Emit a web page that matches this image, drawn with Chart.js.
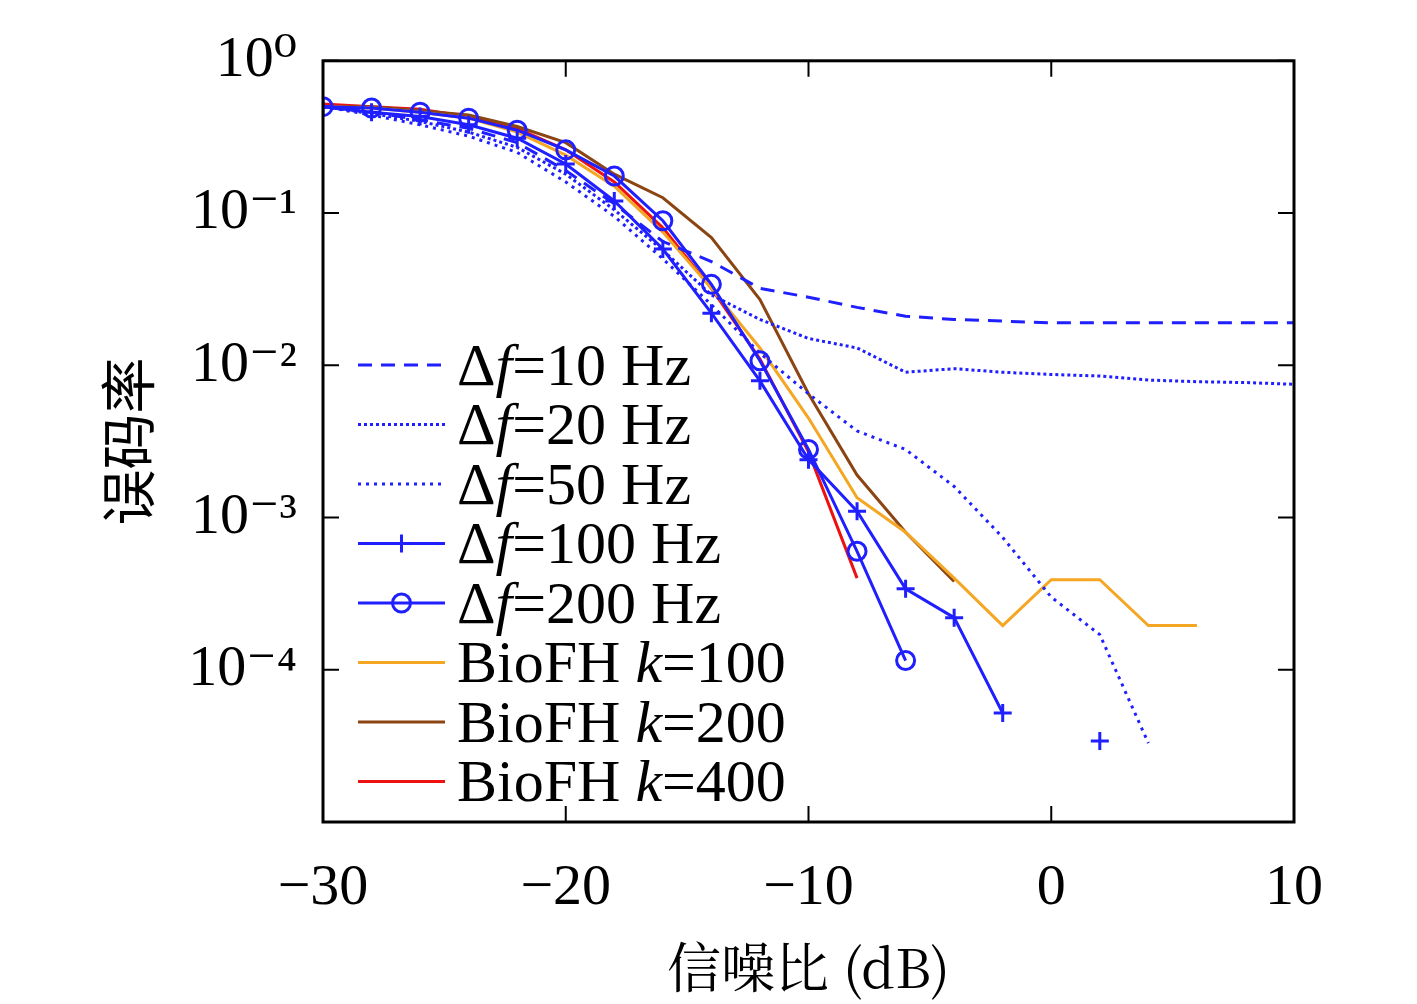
<!DOCTYPE html>
<html><head><meta charset="utf-8">
<script src="https://cdn.jsdelivr.net/npm/chart.js@4/dist/chart.umd.min.js"></script>
<style>html,body{margin:0;background:#fff}#wrap{width:1417px;height:1004px}</style>
</head><body><div id="wrap"><canvas id="c" width="1417" height="1004"></canvas></div>
<script>
/* SNR in dB, every 2 dB */
const snr = [-30,-28,-26,-24,-22,-20,-18,-16,-14,-12,-10,-8,-6,-4,-2,0,2,4,6,8,10];
const df10  = [0.5,0.46,0.41,0.36,0.29,0.19,0.115,0.065,0.048,0.032,0.028,0.024,0.021,0.020,0.0195,0.019,0.019,0.019,0.019,0.019,0.019];
const df20  = [0.5,0.45,0.4,0.34,0.27,0.18,0.105,0.057,0.029,0.020,0.015,0.013,0.009,0.0095,0.009,0.0087,0.0085,0.008,0.0078,0.0077,0.0075];
const df50  = [0.5,0.44,0.38,0.32,0.25,0.16,0.095,0.05,0.025,0.012,0.0065,0.0037,0.0028,0.0016,0.00074,0.0003,0.00017,0.000033,null,null,null];
const df100 = [0.5,0.46,0.43,0.38,0.31,0.21,0.12,0.058,0.022,0.0079,0.0024,0.0011,0.00034,0.00022,0.000052,null,0.000034,null,null,null,null];
const df200 = [0.5,0.49,0.46,0.42,0.35,0.26,0.175,0.089,0.034,0.0107,0.0028,0.0006,0.000115,null,null,null,null,null,null,null,null];
const k100  = [0.5,0.49,0.46,0.42,0.34,0.24,0.15,0.075,0.032,0.013,0.0045,0.00135,0.0008,0.0004,0.000195,0.00039,0.00039,0.000195,0.000195,null,null];
const k200  = [0.5,0.5,0.47,0.44,0.37,0.29,0.18,0.126,0.069,0.027,0.0065,0.0019,0.0008,0.00038,null,null,null,null,null,null,null];
const k400  = [0.52,0.5,0.48,0.43,0.36,0.26,0.16,0.08,0.032,0.011,0.0027,0.0004,null,null,null,null,null,null,null,null,null];
const xTicks = [-30,-20,-10,0,10];
const yTickLabels = {'1':'10⁰','0.1':'10⁻¹','0.01':'10⁻²','0.001':'10⁻³','0.0001':'10⁻⁴'};

const BLUE = '#1f1fff', ORANGE = '#f5a623', BROWN = '#8b4513', RED = '#ee1111';
const serif = '"Liberation Serif", "DejaVu Serif", serif';

function ds(label, data, color, extra){
  return Object.assign({label, data: data.map((v,i)=>({x:snr[i], y:v})), borderColor: color,
    backgroundColor: color, borderWidth: 3, pointRadius: 0, spanGaps: false, fill: false, tension: 0}, extra||{});
}
const datasets = [
  ds('Δf=10 Hz', df10, BLUE, {borderDash:[14,9]}),
  ds('Δf=20 Hz', df20, BLUE, {borderDash:[3,3]}),
  ds('Δf=50 Hz', df50, BLUE, {borderDash:[3,5]}),
  ds('Δf=100 Hz', df100, BLUE, {pointStyle:'cross', pointRadius:9, pointBorderWidth:3}),
  ds('Δf=200 Hz', df200, BLUE, {pointStyle:'circle', pointRadius:9, pointBorderWidth:3, pointBackgroundColor:'rgba(0,0,0,0)'}),
  ds('BioFH k=100', k100, ORANGE),
  ds('BioFH k=200', k200, BROWN),
  ds('BioFH k=400', k400, RED)
];

/* legend + inward ticks */
const extras = {
  id: 'extras',
  afterDatasetsDraw(chart){
    const c = chart.ctx, a = chart.chartArea, x = chart.scales.x, y = chart.scales.y;
    c.save();
    c.strokeStyle = '#000'; c.lineWidth = 2;
    xTicks.forEach(t => { const px = x.getPixelForValue(t);
      c.beginPath(); c.moveTo(px,a.bottom); c.lineTo(px,a.bottom-16); c.moveTo(px,a.top); c.lineTo(px,a.top+16); c.stroke(); });
    [1,0.1,0.01,0.001,0.0001].forEach(t => { const py = y.getPixelForValue(t);
      c.beginPath(); c.moveTo(a.left,py); c.lineTo(a.left+16,py); c.moveTo(a.right,py); c.lineTo(a.right-16,py); c.stroke(); });
    c.lineWidth = 3; c.strokeRect(a.left, a.top, a.right-a.left, a.bottom-a.top);
    // legend
    const x0 = 358, x1 = 445, ty0 = 365, step = 59.5;
    chart.data.datasets.forEach((d,i) => {
      const yy = ty0 + i*step;
      c.strokeStyle = d.borderColor; c.lineWidth = 3; c.setLineDash(d.borderDash||[]);
      c.beginPath(); c.moveTo(x0,yy); c.lineTo(x1,yy); c.stroke(); c.setLineDash([]);
      const mx = (x0+x1)/2;
      if (d.pointStyle === 'cross'){ c.beginPath(); c.moveTo(mx-9,yy); c.lineTo(mx+9,yy); c.moveTo(mx,yy-9); c.lineTo(mx,yy+9); c.stroke(); }
      if (d.pointStyle === 'circle'){ c.beginPath(); c.arc(mx,yy,9,0,Math.PI*2); c.stroke(); }
      c.fillStyle = '#000'; c.font = '60px ' + serif; c.textBaseline = 'middle';
      let lbl = d.label, px = 457;
      const m = lbl.match(/^(Δ|BioFH )(f|k)(=.*)$/);
      c.fillText(m[1], px, yy+4); px += c.measureText(m[1]).width;
      c.font = 'italic 60px ' + serif; c.fillText(m[2], px, yy+4); px += c.measureText(m[2]).width;
      c.font = '60px ' + serif; c.fillText(m[3], px, yy+4);
    });
    c.restore();
  }
};

new Chart(document.getElementById('c'), {
  type: 'line',
  data: {datasets},
  plugins: [extras],
  options: {
    responsive: false, animation: false,
    layout: {padding: {top: -24, right: 123, left: 90, bottom: 0}},
    plugins: {legend: {display: false}, tooltip: {enabled: false}},
    scales: {
      x: {type: 'linear', min: -30, max: 10, grid: {display: false, drawTicks: false}, border: {display: false},
        afterBuildTicks: s => { s.ticks = xTicks.map(v => ({value: v})); },
        afterFit: s => { s.height = 182; },
        ticks: {padding: 32, color: '#000', font: {family: serif, size: 58}, callback: v => String(v).replace('-', '−')},
        title: {display: true, text: '信噪比 (dB)', color: '#000', font: {family: '"Noto Serif CJK SC", "Noto Sans CJK SC", serif', size: 54}, padding: {top: 0}}},
      y: {type: 'logarithmic', min: 1e-5, max: 1, grid: {display: false, drawTicks: false}, border: {display: false},
        afterBuildTicks: s => { s.ticks = [1,0.1,0.01,0.001,0.0001].map(v => ({value: v})); },
        afterFit: s => { s.width = 233; },
        ticks: {padding: 26, color: '#000', font: {family: serif, size: 58}, callback: v => yTickLabels[String(v)] || ''},
        title: {display: true, text: '误码率', color: '#000', font: {family: '"Noto Sans CJK SC", serif', size: 56}, padding: {bottom: 10}}}
    }
  }
});
</script></body></html>
